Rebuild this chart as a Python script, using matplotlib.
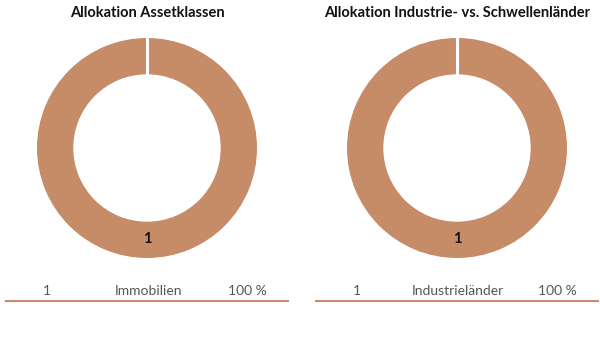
import matplotlib.pyplot as plt

plt.rcParams['font.family'] = ['Lato', 'DejaVu Sans']

titles = ['Allokation Assetklassen', 'Allokation Industrie- vs. Schwellenländer']
categories = [['Immobilien'], ['Industrieländer']]
values = [[1], [1]]
percents = [['100 %'], ['100 %']]

color = '#C68B67'
W, H = 600, 364

fig = plt.figure(figsize=(6, 3.64), dpi=100)

centers_x = [147, 457]
cy = 148
r = 110
for i in range(2):
    cx = centers_x[i]
    ax = fig.add_axes([(cx - r) / W, 1 - (cy + r) / H, 2 * r / W, 2 * r / H])
    ax.pie(values[i], radius=1, startangle=90, counterclock=False, colors=[color],
           wedgeprops=dict(width=0.33, edgecolor='none'))
    # white separator at the start of the slice
    ax.plot([0, 0], [0.6, 1.02], color='white', linewidth=2.2, solid_capstyle='butt')
    ax.set_xlim(-1, 1)
    ax.set_ylim(-1, 1)
    ax.set_aspect('equal')
    ax.axis('off')
    ax.text(0, -0.83, str(values[i][0]), ha='center', va='center', fontsize=10.5,
            fontweight='bold', color='#111111')

    fig.text(cx / W, 1 - 13 / H, titles[i], ha='center', va='center', fontsize=10.5,
             fontweight='bold', color='#111111')

    # legend row
    fig.text((cx - 100) / W, 1 - 291 / H, str(values[i][0]), ha='center', va='center',
             fontsize=10, color='#555555')
    fig.text((cx + 1) / W, 1 - 291 / H, categories[i][0], ha='center', va='center',
             fontsize=10, color='#555555')
    fig.text((cx + 100) / W, 1 - 291 / H, percents[i][0], ha='center', va='center',
             fontsize=10, color='#555555')
    fig.add_artist(plt.Line2D([(cx - 141) / W, (cx + 141) / W], [1 - 301 / H, 1 - 301 / H],
                              color=color, linewidth=1.5))

fig.savefig('out.png', dpi=100, facecolor='white')
